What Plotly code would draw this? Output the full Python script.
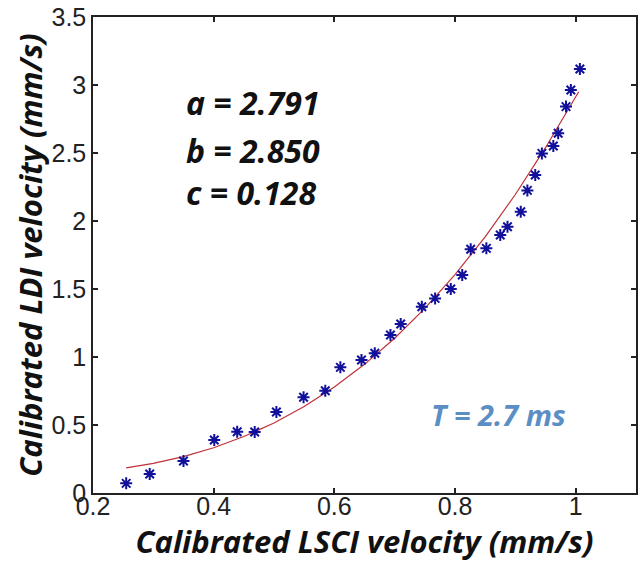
import plotly.graph_objects as go

# Measured data (calibrated LSCI vs LDI velocity)
lsci = [0.255, 0.294, 0.350, 0.401, 0.439, 0.468, 0.504, 0.549, 0.585, 0.610,
        0.645, 0.667, 0.693, 0.710, 0.745, 0.767, 0.793, 0.812, 0.826, 0.852,
        0.875, 0.887, 0.909, 0.920, 0.933, 0.944, 0.963, 0.971, 0.984, 0.992, 1.007]
ldi = [0.071, 0.140, 0.235, 0.390, 0.450, 0.449, 0.596, 0.704, 0.752, 0.924,
       0.978, 1.027, 1.162, 1.243, 1.370, 1.431, 1.500, 1.603, 1.792, 1.799,
       1.897, 1.958, 2.068, 2.225, 2.338, 2.497, 2.551, 2.645, 2.841, 2.963, 3.118]

# Fitted curve
fit_x = [0.255, 0.30, 0.35, 0.40, 0.45, 0.50, 0.55, 0.60, 0.65, 0.70,
         0.75, 0.80, 0.85, 0.90, 0.95, 1.005]
fit_y = [0.185, 0.218, 0.268, 0.333, 0.415, 0.515, 0.636, 0.779, 0.946, 1.138,
         1.357, 1.606, 1.884, 2.195, 2.539, 2.950]

params = ["a = 2.791", "b = 2.850", "c = 0.128"]
param_y = [2.868, 2.522, 2.206]
x_ticks = [0.2, 0.4, 0.6, 0.8, 1.0]
x_labels = ["0.2", "0.4", "0.6", "0.8", "1"]
y_ticks = [0, 0.5, 1, 1.5, 2, 2.5, 3, 3.5]
y_labels = ["0", "0.5", "1", "1.5", "2", "2.5", "3", "3.5"]

fig = go.Figure()
fig.add_trace(go.Scatter(x=fit_x, y=fit_y, mode="lines",
                         line=dict(color="#c0303a", width=1.2), showlegend=False))
fig.add_trace(go.Scatter(x=lsci, y=ldi, mode="markers",
                         marker=dict(symbol="asterisk-open", size=10, color="#10109a",
                                     line=dict(color="#10109a", width=2)),
                         showlegend=False))

title_font = dict(family="Open Sans", size=31, color="#111111")
for txt, yy in zip(params, param_y):
    fig.add_annotation(x=0.350, y=yy, xref="x", yref="y", text=f"<b><i>{txt}</i></b>",
                       showarrow=False, xanchor="left", yanchor="middle",
                       font=dict(family="Open Sans", size=32, color="#111111"))
fig.add_annotation(x=0.757, y=0.574, xref="x", yref="y", text="<b><i>T = 2.7 ms</i></b>",
                   showarrow=False, xanchor="left", yanchor="middle",
                   font=dict(family="Open Sans", size=29, color="#5b8ec4"))

axis_common = dict(showgrid=False, zeroline=False, showline=True, linecolor="#222222",
                   linewidth=1.5, mirror="ticks", ticks="inside", ticklen=5,
                   tickcolor="#222222", tickwidth=1.5,
                   tickfont=dict(family="Liberation Sans", size=25, color="#222222"))

fig.update_xaxes(range=[0.2, 1.1], tickvals=x_ticks, ticktext=x_labels,
                 ticklabelstandoff=-10,
                 title=dict(text="<b><i>Calibrated LSCI velocity (mm/s)</i></b>",
                            font=title_font, standoff=0),
                 automargin=False, **axis_common)
fig.update_yaxes(range=[0, 3.5], tickvals=y_ticks, ticktext=y_labels,
                 title=dict(text="<b><i>Calibrated LDI velocity (mm/s)</i></b>",
                            font=title_font, standoff=0),
                 automargin=False, **axis_common)

fig.update_layout(width=640, height=570, paper_bgcolor="white", plot_bgcolor="white",
                  margin=dict(l=93, r=4, t=17, b=77))

fig.write_html("out.html")
